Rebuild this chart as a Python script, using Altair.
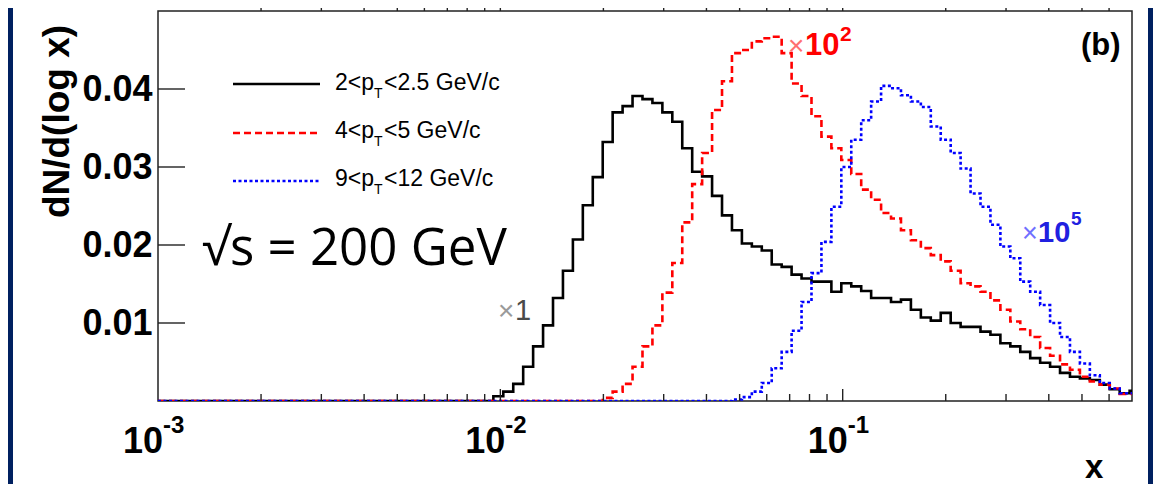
import altair as alt
import numpy as np
import pandas as pd

# ---------------- data ----------------
# histogram bin grid: log10 of the lower edge of the first listed bin, and bin width (decades)
LOG_FIRST_EDGE = -2.0204
LOG_BIN_WIDTH = 0.02904

black_vals = [0.0006, 0.0012, 0.0022, 0.0044, 0.0070, 0.0097, 0.0132, 0.0167, 0.0207, 0.0251,
              0.0287, 0.0332, 0.0370, 0.0378, 0.0391, 0.0387, 0.0382, 0.0370, 0.0358, 0.0324,
              0.0294, 0.0288, 0.0263, 0.0238, 0.0219, 0.0202, 0.0198, 0.0193, 0.0175, 0.0172,
              0.0162, 0.0157, 0.0153, 0.0153, 0.0140, 0.0151, 0.0147, 0.0141, 0.0132, 0.0132,
              0.0127, 0.0130, 0.0117, 0.0107, 0.0103, 0.0113, 0.0100, 0.0095, 0.0095, 0.0089,
              0.0085, 0.0074, 0.0070, 0.0063, 0.0055, 0.0049, 0.0044, 0.0036, 0.0031, 0.0029,
              0.0027, 0.0021, 0.0015, 0.0010, 0.0013]

red_vals = [0, 0, 0, 0, 0, 0, 0, 0, 0, 0,
            0, 0.0004, 0.0012, 0.0022, 0.0044, 0.0070, 0.0097, 0.0139, 0.0177, 0.0229,
            0.0278, 0.0318, 0.0373, 0.0410, 0.0446, 0.0450, 0.0461, 0.0465, 0.0467, 0.0446,
            0.0407, 0.0391, 0.0365, 0.0339, 0.0324, 0.0309, 0.0291, 0.0271, 0.0258, 0.0241,
            0.0234, 0.0219, 0.0206, 0.0196, 0.0187, 0.0179, 0.0167, 0.0151, 0.0147, 0.0140,
            0.0129, 0.0117, 0.0102, 0.0092, 0.0082, 0.0068, 0.0058, 0.0047, 0.0040, 0.0031,
            0.0025, 0.0021, 0.0016, 0.0009, 0.0009]

blue_vals = [0, 0, 0, 0, 0, 0, 0, 0, 0, 0,
             0, 0, 0, 0, 0, 0, 0, 0, 0, 0,
             0, 0, 0, 0, 0.0002, 0.0005, 0.0012, 0.0023, 0.0042, 0.0063,
             0.0090, 0.0127, 0.0164, 0.0204, 0.0249, 0.0300, 0.0335, 0.0360, 0.0384, 0.0404,
             0.0401, 0.0392, 0.0384, 0.0377, 0.0352, 0.0335, 0.0318, 0.0298, 0.0266, 0.0249,
             0.0226, 0.0198, 0.0183, 0.0153, 0.0140, 0.0123, 0.0100, 0.0082, 0.0063, 0.0048,
             0.0033, 0.0023, 0.0016, 0.0010, 0.0010]

series_names = ["black", "red", "blue"]
legend_lead = ["2<p", "4<p", "9<p"]
legend_tail = ["<2.5 GeV/c", "<5 GeV/c", "<12 GeV/c"]

x_domain = [0.001, 0.7]
y_domain = [0.0, 0.05]
y_ticks = [0.01, 0.02, 0.03, 0.04]
x_major = [0.01, 0.1]
x_minor = [0.002, 0.003, 0.004, 0.005, 0.006, 0.007, 0.008, 0.009,
           0.02, 0.03, 0.04, 0.05, 0.06, 0.07, 0.08, 0.09,
           0.2, 0.3, 0.4, 0.5, 0.6]
x_label_vals = [0.001, 0.01, 0.1]
x_label_exp = ["-3", "-2", "-1"]

# ---------------- styling ----------------
NAVY = "#002060"
SANS = "'Liberation Sans', Arial, Helvetica, sans-serif"
ROUND = "'Open Sans', 'Noto Sans', sans-serif"
FRAME = "#222222"
W, H = 974, 390


def build_points(vals, name):
    xs, ys = [x_domain[0]], [0.0]
    for k, v in enumerate(vals):
        xs.append(10 ** (LOG_FIRST_EDGE + LOG_BIN_WIDTH * k))
        ys.append(v)
    xs.append(10 ** (LOG_FIRST_EDGE + LOG_BIN_WIDTH * len(vals)))
    ys.append(vals[-1])
    return pd.DataFrame({"x": xs, "y": ys, "s": name, "i": range(len(xs))})


hist = pd.concat([build_points(v, n) for v, n in
                  zip([black_vals, red_vals, blue_vals], series_names)], ignore_index=True)

one = pd.DataFrame({"a": [0]})

X = alt.X("x:Q", scale=alt.Scale(type="log", domain=x_domain, nice=False), axis=None)
Y_AXIS = alt.Axis(values=y_ticks, format=".2f", title="dN/d(log x)", ticks=False, tickSize=0,
                  domain=False, grid=False, labelFont=SANS, labelFontSize=36,
                  labelFontWeight="bold", labelColor="black", labelPadding=6,
                  titleFont=SANS, titleFontSize=37, titleFontWeight="bold", titleColor="black",
                  titleX=-101, titleY=110, titleAngle=270, titleAlign="center",
                  titleBaseline="middle")
Y_SCALE = alt.Scale(domain=y_domain, nice=False, zero=True)


def text(t, x, y, size, color="black", weight="normal", font=SANS, align="left"):
    return alt.Chart(one).mark_text(text=t, font=font, fontSize=size, fontWeight=weight,
                                    color=color, align=align, baseline="alphabetic").encode(
        x=alt.value(x), y=alt.value(y))


layers = []

# navy strips at the edges of the slide
layers.append(alt.Chart(one).mark_rect(color=NAVY).encode(
    x=alt.value(-150), x2=alt.value(-145), y=alt.value(-3), y2=alt.value(473)))
layers.append(alt.Chart(one).mark_rect(color=NAVY).encode(
    x=alt.value(990), x2=alt.value(995), y=alt.value(-3), y2=alt.value(473)))

# histograms
styles = {
    "black": dict(color="black", strokeWidth=2.6),
    "red": dict(color="#ff0000", strokeWidth=2.6, strokeDash=[7, 4]),
    "blue": dict(color="#0000ff", strokeWidth=2.6, strokeDash=[3, 2.5]),
}
for n in series_names:
    layers.append(alt.Chart(hist).transform_filter(alt.datum.s == n).mark_line(
        interpolate="step-after", clip=True, **styles[n]).encode(
        x=X, y=alt.Y("y:Q", scale=Y_SCALE, axis=Y_AXIS), order="i:Q"))

# inward y ticks
layers.append(alt.Chart(pd.DataFrame({"y": y_ticks})).mark_rule(color=FRAME, strokeWidth=1.4).encode(
    y=alt.Y("y:Q", scale=Y_SCALE, axis=Y_AXIS), x=alt.value(0), x2=alt.value(27)))

# inward bottom ticks and outward top ticks
layers.append(alt.Chart(pd.DataFrame({"x": x_major})).mark_rule(color=FRAME, strokeWidth=1.4).encode(
    x=X, y=alt.value(H), y2=alt.value(H - 12)))
layers.append(alt.Chart(pd.DataFrame({"x": x_minor})).mark_rule(color=FRAME, strokeWidth=1.4).encode(
    x=X, y=alt.value(H), y2=alt.value(H - 7)))
layers.append(alt.Chart(pd.DataFrame({"x": x_major + x_minor})).mark_rule(color=FRAME, strokeWidth=1.4).encode(
    x=X, y=alt.value(0), y2=alt.value(-8)))

# x tick labels 10^n
lab = pd.DataFrame({"x": x_label_vals, "e": x_label_exp})
layers.append(alt.Chart(lab).mark_text(font=SANS, fontSize=36, fontWeight="bold", color="black",
                                       align="right", baseline="alphabetic", dx=5, text="10").encode(
    x=X, y=alt.value(442)))
layers.append(alt.Chart(lab).mark_text(font=SANS, fontSize=24, fontWeight="bold", color="black",
                                       align="left", baseline="alphabetic", dx=5).encode(
    x=X, y=alt.value(422), text="e:N"))

# x axis title and panel tag
layers.append(text("x", 927, 467, 33, weight="bold"))
layers.append(text("(b)", 923, 44, 31, weight="bold"))

# legend
leg_y = [73, 122, 170]
leg_base = [79, 127, 175]
leg_style = [dict(color="black", strokeWidth=2.6),
             dict(color="#ff0000", strokeWidth=2.6, strokeDash=[7, 4]),
             dict(color="#0000ff", strokeWidth=2.6, strokeDash=[3, 2.5])]
for r in range(3):
    layers.append(alt.Chart(one).mark_rule(**leg_style[r]).encode(
        x=alt.value(75), x2=alt.value(162), y=alt.value(leg_y[r])))
    layers.append(text(legend_lead[r], 177, leg_base[r], 23))
    layers.append(text("T", 216, leg_base[r] + 8, 14))
    layers.append(text(legend_tail[r], 226, leg_base[r], 23))

# energy label
layers.append(text("\u221as = 200 GeV", 44, 254, 51, font=ROUND))

# scale factors
layers.append(text("\u00d7", 340, 309, 28, color="#9a9a9a"))
layers.append(text("1", 357, 309, 29, color="#4a4a4a"))
layers.append(text("\u00d7", 630, 44, 28, color="#ff7070"))
layers.append(text("10", 647, 44, 31, color="#ff0000", weight="bold"))
layers.append(text("2", 682, 30, 21, color="#ff0000", weight="bold"))
layers.append(text("\u00d7", 864, 231, 27, color="#7070ff"))
layers.append(text("10", 880, 231, 29, color="#2020e0", weight="bold"))
layers.append(text("5", 913, 214, 19, color="#2020e0", weight="bold"))

chart = alt.layer(*layers).properties(
    width=W, height=H,
    autosize=alt.AutoSizeParams(type="none"),
    padding={"left": 150, "top": 3, "right": 21, "bottom": 83},
    background="white",
).configure_view(stroke=FRAME, strokeWidth=1.5)

chart.save("out.html", embed_options={"renderer": "svg", "actions": False})
